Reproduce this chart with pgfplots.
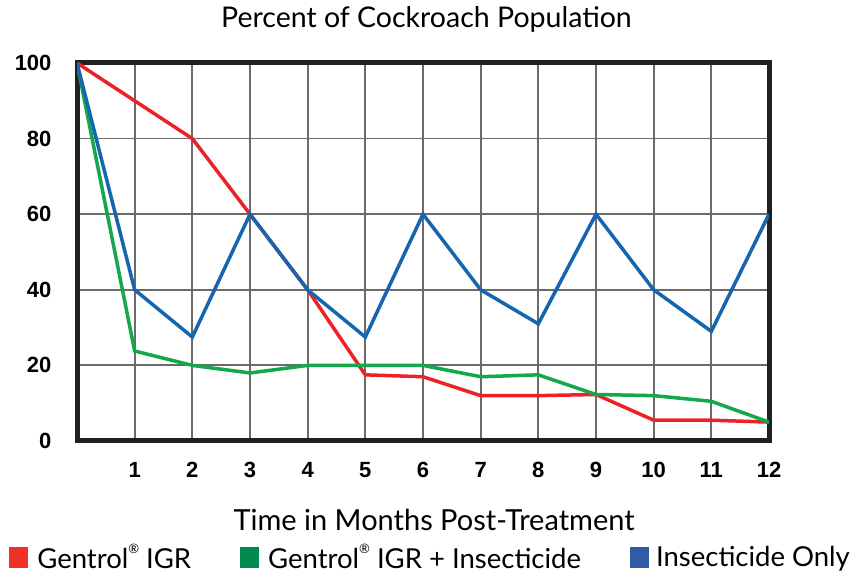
\documentclass[border=0pt]{standalone}
\usepackage{fontspec}
\setmainfont{Lato}
\newfontfamily\tickfont{Liberation Sans}
\usepackage{pgfplots}
\pgfplotsset{compat=1.18}
\definecolor{cred}{HTML}{EC2227}
\definecolor{cgreen}{HTML}{12A84B}
\definecolor{cblue}{HTML}{1565AF}
\definecolor{lred}{HTML}{EE3124}
\definecolor{lgreen}{HTML}{008A4F}
\definecolor{lblue}{HTML}{2E5DA6}
\definecolor{gridgray}{HTML}{6B6B6B}
\definecolor{frame}{HTML}{231F20}
\newcommand{\reg}{\raisebox{0.55em}{\fontsize{13}{13}\selectfont ®}}
\begin{document}
\begin{tikzpicture}[x=1pt,y=1pt]
\useasboundingbox (0,0) rectangle (868,575);
\begin{axis}[
  at={(77pt,134pt)}, anchor=south west,
  scale only axis, width=692pt, height=378pt,
  xmin=0, xmax=12, ymin=0, ymax=100,
  xtick={1,...,12}, ytick={0,20,...,100},
  grid=major, major grid style={gridgray, line width=1.8pt},
  axis line style={frame, line width=5pt},
  major tick length=0pt,
  /pgf/number format/assume math mode=true,
  ticklabel style={font=\tickfont\bfseries\fontsize{22}{24}\selectfont},
  xticklabel style={yshift=-18pt},
  yticklabel style={xshift=-22pt},
  title={Percent of Cockroach Population},
  title style={at={(axis description cs:0.505,1.10)}, anchor=center, font=\fontsize{28.5}{32}\selectfont},
  xlabel={Time in Months Post-Treatment},
  xlabel style={at={(axis description cs:0.516,-0.209)}, anchor=center, font=\fontsize{29}{32}\selectfont},
  legend columns=3,
  legend style={at={(axis description cs:0.511,-0.307)}, anchor=center, draw=none, fill=none,
    font=\fontsize{27.5}{30}\selectfont,
    /tikz/every even column/.append style={column sep=47pt}},
  legend image code/.code={\fill[#1] (0pt,-10.5pt) rectangle (19pt,10.5pt);},
]
\addlegendimage{fill=lred, draw=none}
\addlegendentry{\hspace{7pt}Gentrol\reg{} IGR}
\addlegendimage{fill=lgreen, draw=none}
\addlegendentry{\hspace{7pt}Gentrol\reg{} IGR + Insecticide}
\addlegendimage{fill=lblue, draw=none}
\addlegendentry{\hspace{5pt}Insecticide Only}
\addplot[cred, line width=3.5pt, forget plot] coordinates {
(0,100) (1,90) (2,80) (3,60) (4,40) (5,17.5) (6,17) (7,12) (8,12) (9,12.3) (10,5.5) (11,5.5) (12,5)};
\addplot[cgreen, line width=3.5pt, forget plot] coordinates {
(0,100) (1,23.8) (2,20) (3,18) (4,20) (5,20) (6,20) (7,17) (8,17.5) (9,12.3) (10,12) (11,10.5) (12,5)};
\addplot[cblue, line width=3.5pt, forget plot] coordinates {
(0,100) (1,40) (2,27.5) (3,60) (4,40) (5,27.5) (6,60) (7,40) (8,31) (9,60) (10,40) (11,29) (12,60)};
\end{axis}
\end{tikzpicture}
\end{document}
